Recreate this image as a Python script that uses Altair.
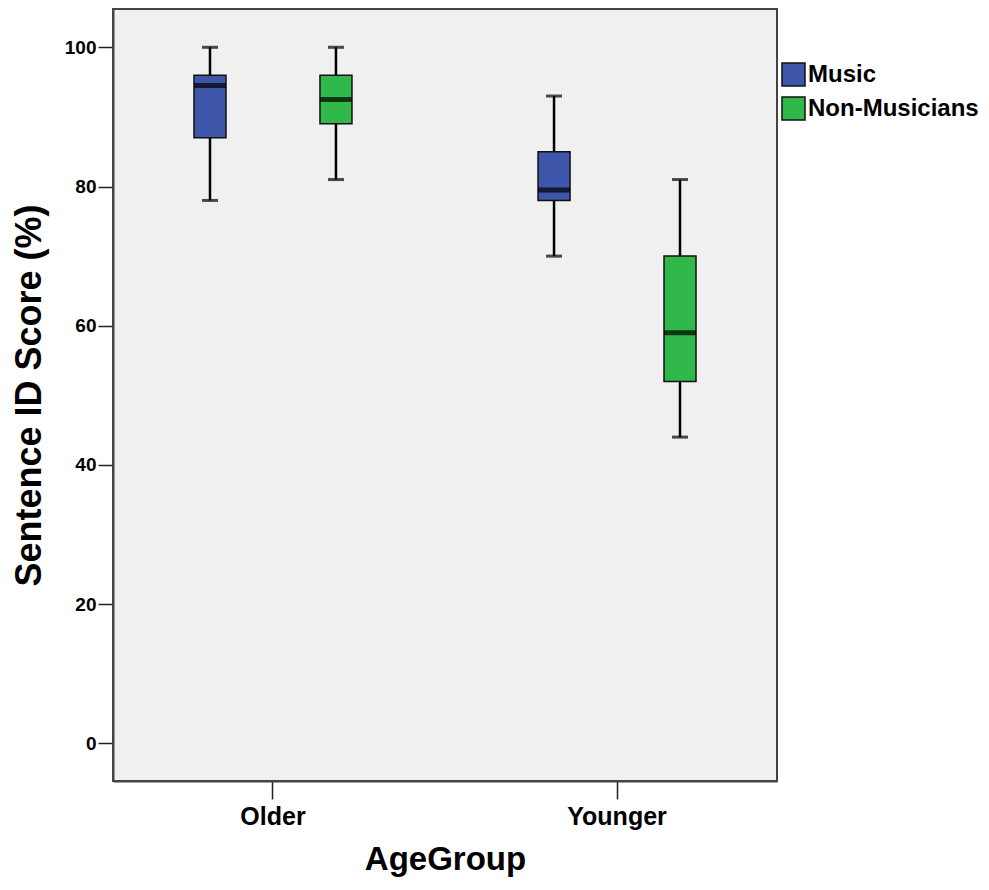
import altair as alt
import pandas as pd

# ---- data ----
age_group = ["Older", "Older", "Younger", "Younger"]
group = ["Music", "Non-Musicians", "Music", "Non-Musicians"]
w_low = [78, 81, 70, 44]
q1 = [87, 89, 78, 52]
median = [94.5, 92.5, 79.5, 59]
q3 = [96, 96, 85, 70]
w_high = [100, 100, 93, 81]

group_names = ["Music", "Non-Musicians"]
group_colors = ["#3D56A9", "#31B84B"]
y_ticks = [0, 20, 40, 60, 80, 100]

df = pd.DataFrame({
    "AgeGroup": age_group, "Group": group,
    "lo": w_low, "q1": q1, "med": median, "q3": q3, "hi": w_high,
})

FONT = "Liberation Sans"

x_enc = alt.X(
    "AgeGroup:N",
    scale=alt.Scale(paddingInner=0.07, paddingOuter=0),
    axis=alt.Axis(
        title="AgeGroup", labelAngle=0, tickSize=18, labelPadding=5,
        labelFontSize=25, labelFont=FONT, labelFontWeight="bold", labelColor="black",
        titleFontSize=33, titleFont=FONT, titleFontWeight="bold", titleColor="black",
        titlePadding=14, tickColor="#222", tickWidth=1.5,
        domainColor="#444", domainWidth=2,
    ),
)
xo_enc = alt.XOffset(
    "Group:N",
    scale=alt.Scale(domain=group_names, paddingInner=0, paddingOuter=0.27),
)
y_scale = alt.Scale(domain=[-5.4, 105.5], nice=False, zero=False)
y_axis = alt.Axis(
    title="Sentence ID Score (%)", values=y_ticks, grid=False,
    tickSize=15, labelPadding=2,
    labelFontSize=19, labelFont=FONT, labelFontWeight="bold", labelColor="black",
    titleFontSize=36, titleFont=FONT, titleFontWeight="bold", titleColor="black",
    titlePadding=16, tickColor="#222", tickWidth=1.5,
    domainColor="#444", domainWidth=2,
)

base = alt.Chart(df).encode(x=x_enc, xOffset=xo_enc)

whisk_low = base.mark_rule(color="black", strokeWidth=2.5).encode(
    y=alt.Y("lo:Q", scale=y_scale, axis=y_axis), y2="q1:Q")
whisk_high = base.mark_rule(color="black", strokeWidth=2.5).encode(
    y=alt.Y("q3:Q", scale=y_scale), y2="hi:Q")
cap_low = base.mark_tick(color="black", size=16, thickness=3).encode(
    y=alt.Y("lo:Q", scale=y_scale))
cap_high = base.mark_tick(color="black", size=16, thickness=3).encode(
    y=alt.Y("hi:Q", scale=y_scale))
box = base.mark_bar(width=32, stroke="#111", strokeWidth=1.5).encode(
    y=alt.Y("q1:Q", scale=y_scale), y2="q3:Q",
    color=alt.Color(
        "Group:N",
        scale=alt.Scale(domain=group_names, range=group_colors),
        legend=alt.Legend(
            title=None, orient="none", legendX=668, legendY=53, padding=0,
            symbolType="square", symbolSize=529, symbolStrokeColor="#111",
            symbolStrokeWidth=1.5, symbolOpacity=1,
            labelFontSize=24, labelFont=FONT, labelFontWeight="bold",
            labelColor="black", labelOffset=2, rowPadding=5,
            labelLimit=300,
        ),
    ),
)
med = base.mark_tick(color="black", size=32, thickness=5).encode(
    y=alt.Y("med:Q", scale=y_scale))

chart = (
    alt.layer(whisk_low, whisk_high, cap_low, cap_high, box, med)
    .properties(
        width=664, height=772,
        background="white",
        autosize=alt.AutoSizeParams(type="none"),
        padding={"left": 105, "top": 1, "right": 203, "bottom": 99},
    )
    .configure_view(fill="#F0F0F0", stroke="#444", strokeWidth=2)
)

chart.save("out.html", embed_options={"renderer": "svg", "actions": False})
